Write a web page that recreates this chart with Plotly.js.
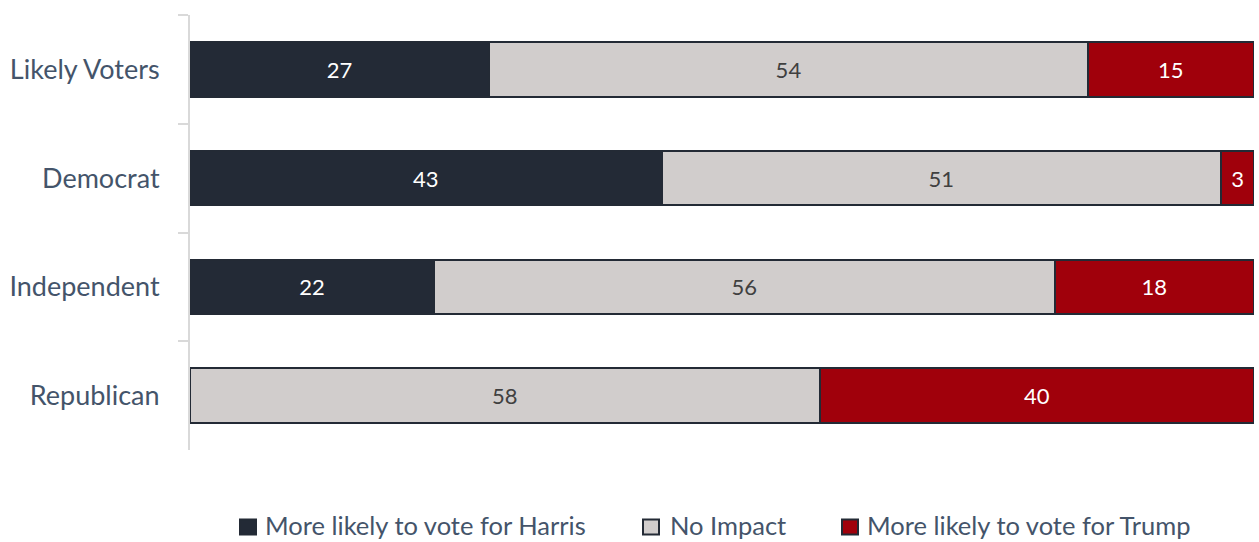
<!DOCTYPE html>
<html>
<head>
<meta charset="utf-8">
<script src="https://cdn.plot.ly/plotly-3.0.1.min.js"></script>
<style>html,body{margin:0;padding:0;background:#fff;}#chart{width:1259px;height:542px;}</style>
</head>
<body>
<div id="chart"></div>
<script>
const categories = ["Likely Voters", "Democrat", "Independent", "Republican"];
const harris = [27, 43, 22, 0];
const noImpact = [54, 51, 56, 58];
const trump = [15, 3, 18, 40];
const seriesNames = ["More likely to vote for Harris", "No Impact", "More likely to vote for Trump"];

const colors = ["#232a36", "#d1cdcc", "#a0000b"];
const textColors = ["#ffffff", "#404040", "#ffffff"];
const outline = "#232a35";
const series = [harris, noImpact, trump];
const FONT = "Lato, 'Open Sans', sans-serif";
const LABEL_COLOR = "#44546a";

const W = 1259, H = 542;
const M = {l: 190, r: 5, t: 15, b: 10};
const plotW = W - M.l - M.r, plotH = H - M.t - M.b;
const px2x = p => (p - M.l) / plotW;
const py2y = p => (H - M.b - p) / plotH;

const traces = series.map((vals, i) => ({
  type: "bar",
  orientation: "h",
  name: seriesNames[i],
  y: categories,
  x: vals,
  text: vals.map(v => v > 0 ? String(v) : ""),
  textposition: "inside",
  insidetextanchor: "middle",
  textangle: 0,
  constraintext: "none",
  textfont: {family: FONT, size: 22, color: textColors[i]},
  marker: {color: colors[i], line: {color: outline, width: 2}},
  hoverinfo: "skip",
  width: 0.5,
  showlegend: false
}));

// manual legend
const legendSymX = [240, 643, 842];
const legendTextX = [264, 669, 866];
const legendY = 525;
const shapes = seriesNames.map((n, i) => ({
  type: "rect", xref: "paper", yref: "paper",
  x0: px2x(legendSymX[i]), x1: px2x(legendSymX[i] + 16),
  y0: py2y(legendY + 2 - 7.5), y1: py2y(legendY + 2 + 7.5),
  fillcolor: colors[i], line: {color: outline, width: 2}
}));
const annotations = seriesNames.map((n, i) => ({
  text: n, xref: "paper", yref: "paper",
  x: px2x(legendTextX[i]), y: py2y(legendY),
  xanchor: "left", yanchor: "middle", showarrow: false,
  borderpad: 0,
  font: {family: FONT, size: 25.5, color: LABEL_COLOR}
}));

const layout = {
  width: W,
  height: H,
  margin: M,
  barmode: "stack",
  barnorm: "percent",
  showlegend: false,
  paper_bgcolor: "#ffffff",
  plot_bgcolor: "#ffffff",
  font: {family: FONT, color: LABEL_COLOR},
  xaxis: {range: [0, 100], visible: false, showgrid: false, zeroline: false, fixedrange: true},
  yaxis: {
    type: "category",
    autorange: "reversed",
    domain: [py2y(450), 1],
    showline: true,
    linecolor: "#d9d9d9",
    linewidth: 2,
    ticks: "outside",
    tickson: "boundaries",
    ticklen: 10,
    tickcolor: "#d9d9d9",
    tickwidth: 2,
    ticklabelstandoff: 23,
    tickfont: {family: FONT, size: 27, color: LABEL_COLOR},
    showgrid: false,
    zeroline: false,
    automargin: false
  },
  shapes: shapes,
  annotations: annotations
};

Plotly.newPlot("chart", traces, layout, {displayModeBar: false, staticPlot: true});
</script>
</body>
</html>
